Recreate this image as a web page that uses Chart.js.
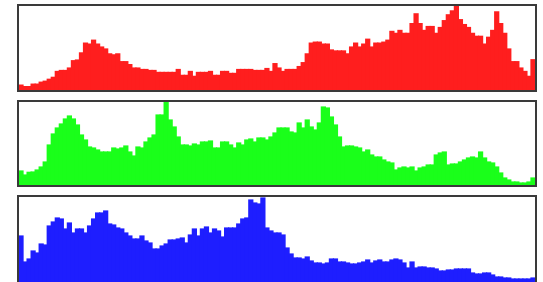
<!DOCTYPE html>
<html>
<head>
<meta charset="utf-8">
<script src="https://cdn.jsdelivr.net/npm/chart.js@4"></script>
<style>
  body { margin: 0; background: #fff; width: 543px; height: 282px; overflow: hidden; position: relative; }
  .panel { position: absolute; left: 17px; width: 516px; border: 2px solid #3a3a3a; background: #fff; }
  .panel canvas { display: block; }
</style>
</head>
<body>
<div class="panel" style="top:4px;height:84px"><canvas id="redChart" width="516" height="84"></canvas></div>
<div class="panel" style="top:100px;height:83px"><canvas id="greenChart" width="516" height="83"></canvas></div>
<div class="panel" style="top:195px;height:86px"><canvas id="blueChart" width="516" height="86"></canvas></div>
<script>
// 128 histogram bins per channel
const bins = Array.from({ length: 128 }, (_, i) => i * 2);

const redCounts = [
  5, 3.5, 3.5, 6, 6, 8, 9, 11, 13, 19, 20, 20, 22.5, 30, 30.7, 38,
  48, 47, 51, 47, 44, 42, 37, 36, 37, 29, 29, 26, 22.5, 22.5, 21, 21,
  20, 20, 18, 18, 18, 18, 18, 21, 15, 15, 19, 14, 18, 18, 18, 19,
  15, 15, 19, 19, 17, 17, 21, 21, 21, 21, 20, 20, 20, 22, 19, 27,
  22.5, 19, 21, 21, 21, 24, 28, 37, 48, 49, 49, 47, 47, 41, 40, 40,
  40, 37, 44, 48, 44, 47, 52, 44, 48, 48, 49, 51, 60, 58, 61, 58,
  58, 68, 78, 68, 61, 65, 65, 58, 64, 71, 77, 81, 86, 72, 67, 64,
  58, 55, 55, 47, 54, 61, 80, 68, 58, 42, 29, 29, 22.5, 19, 14, 31
];

const greenCounts = [
  14, 10, 12.7, 13, 15, 18, 23, 40, 51, 57, 61, 66, 69, 66, 60, 50,
  45, 38, 37, 35, 33, 33, 33, 37, 36, 37, 39, 33, 29, 38, 37, 43,
  47, 50, 70, 70, 83, 65, 58, 48, 40, 40, 39, 41, 40, 43, 43, 44,
  37, 37, 43, 43, 40, 37, 42, 40, 45, 46, 43, 47, 47, 45, 48, 52,
  57, 57, 57, 53, 52, 62, 57, 65, 58, 55, 62, 78, 77, 68, 60, 48,
  38, 39, 39, 38, 37, 33, 35, 30, 28, 28, 25, 23, 22, 15, 17, 18,
  17, 18, 14, 17, 18, 20, 20, 30, 32, 33, 20, 21, 21, 23, 25, 27,
  28, 27, 33, 27, 23, 22, 18, 12, 7, 5, 3, 3, 2, 2, 3, 7
];

const blueCounts = [
  47, 21, 24, 32, 30, 39, 38, 57, 61, 65, 64, 54, 60, 50, 54, 54,
  50, 57, 64, 70, 70, 72, 59, 58, 55, 54, 50, 47, 44, 44, 47, 42,
  40, 34, 34, 37, 39, 43, 43, 44, 45, 40, 48, 54, 47, 54, 56, 50,
  54, 52, 46, 55, 55, 55, 59, 64, 65, 83, 80, 79, 85, 55, 52, 50,
  50, 48, 35, 29, 25, 25, 24, 26, 22, 20, 20, 19, 20, 24, 24, 21,
  21, 20, 19, 19, 20, 21, 23, 20, 22, 23, 21, 21, 23, 24, 23, 20,
  15, 21, 15, 16, 16, 15, 15, 14, 12, 12, 13, 13, 14, 14, 14, 14,
  10, 9, 9, 10, 10, 8, 6, 6, 5, 5, 4, 4, 4, 4, 4, 5
];

function makeHistogram(id, counts, color, yMax) {
  new Chart(document.getElementById(id), {
    type: 'bar',
    data: {
      labels: bins,
      datasets: [{
        data: counts,
        backgroundColor: color,
        borderWidth: 0,
        barPercentage: 1,
        categoryPercentage: 1,
        inflateAmount: 0.6,
      }],
    },
    options: {
      responsive: false,
      animation: false,
      layout: { padding: 0 },
      plugins: { legend: { display: false }, tooltip: { enabled: false } },
      scales: {
        x: { display: false },
        y: { display: false, min: 0, max: yMax },
      },
    },
  });
}

makeHistogram('redChart', redCounts, '#ff1e1e', 86);
makeHistogram('greenChart', greenCounts, '#1aff1a', 83);
makeHistogram('blueChart', blueCounts, '#1e1eff', 86);
</script>
</body>
</html>
